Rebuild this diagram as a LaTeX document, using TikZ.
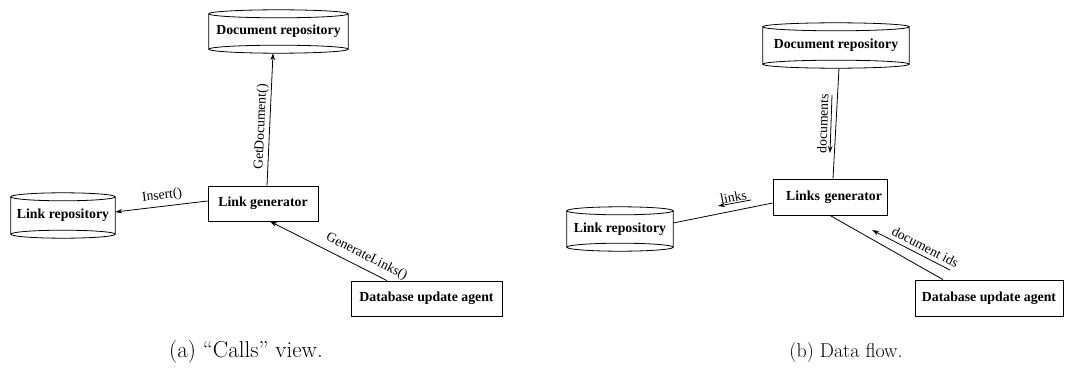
\documentclass[tikz,border=0pt]{standalone}
\usepackage{fontspec}
\newfontfamily\tms{Liberation Serif}
\usetikzlibrary{arrows.meta,calc}
\begin{document}
\begin{tikzpicture}[x=1pt,y=-1pt,
  conn/.style={line width=0.8pt},
  box/.style={draw, line width=0.8pt, inner sep=0pt, font=\tms\bfseries\fontsize{13.8}{16}\selectfont},
  cyl/.style={inner sep=0pt, font=\tms\bfseries\fontsize{13.8}{16}\selectfont},
  arr/.style={conn, -{Stealth[length=7pt,width=4.5pt]}},
  harr/.style={conn, {Stealth[length=7pt,width=4.5pt]}-},
  lbl/.style={font=\tms\fontsize{13.6}{15}\selectfont, inner sep=2pt},
  capa/.style={font=\fontsize{23}{27}\selectfont, inner sep=0pt},
  capb/.style={font=\fontsize{20}{24}\selectfont, inner sep=0pt}
]
\useasboundingbox (0,0) rectangle (1072,369);

% ---------- (a) ----------
\node[cyl, minimum width=139pt, minimum height=43pt] (draA) at (278.5,31.5) {Document repository};
\node[box, minimum width=110pt, minimum height=35pt] (lgA) at (263,203.5) {Link generator};
\node[cyl, minimum width=104pt, minimum height=45pt] (lrA) at (63,215.5) {Link repository};
\node[box, minimum width=151pt, minimum height=35pt] (dbA) at (426.5,298.5) {Database update agent};

% ---------- (b) ----------
\node[cyl, minimum width=146pt, minimum height=45pt] (draB) at (836,45.5) {Document repository};
\node[box, minimum width=114pt, minimum height=36pt, text width=104pt, align=right] (lgB) at (830,197) {Links generator};
\node[cyl, minimum width=106pt, minimum height=44pt] (lrB) at (620,229) {Link repository};
\node[box, minimum width=148pt, minimum height=36pt] (dbB) at (989,298) {Database update agent};

% cylinder outlines
\foreach \cy in {draA,lrA,draB,lrB}{
  \draw[conn] let \p1=(\cy.north west), \p2=(\cy.south east), \n1={(\x2-\x1)/2} in
    (\x1,\y1-4pt) -- (\x1,\y2+4pt)
    (\x2,\y1-4pt) -- (\x2,\y2+4pt)
    ({(\x1+\x2)/2},{\y1-4pt}) ellipse [x radius=\n1, y radius=4pt]
    ({(\x1+\x2)/2},{\y2+4pt}) ellipse [x radius=\n1, y radius=4pt];
}

% connectors (a)
\draw[arr] ($(lgA.north)+(4,0)$) -- node[lbl, sloped, above, pos=0.44, inner sep=2pt] {GetDocument()} ($(draA.south)+(-5.5,0)$);
\draw[harr] ($(lrA.east)+(0,-3.5)$) -- node[lbl, sloped, above, pos=0.52, inner sep=4pt] {Insert()} ($(lgA.west)+(0,-2.5)$);
\draw[harr] ($(lgA.south)+(7,0)$) -- node[lbl, sloped, above, pos=0.78, inner sep=5.5pt] {GenerateLinks()} ($(dbA.north)+(-39.5,0)$);

% connectors (b)
\draw[conn] ($(draB.south)+(3,0)$) -- ($(lgB.north)+(3,0)$);
\draw[conn] ($(lgB.west)+(0,6)$) -- ($(lrB.east)+(0,-6)$);
\draw[conn] (lgB.south) -- ($(dbB.north)+(-46,0)$);

% data-flow arrows (b)
\coordinate (dH) at (830,153);
\coordinate (dT) at (832,95);
\draw[harr] (dH) -- node[lbl, sloped, above, inner sep=3pt] {documents} (dT);
\coordinate (kH) at (718,206);
\coordinate (kT) at (751,200);
\draw[harr] (kH) -- node[lbl, sloped, above, inner sep=1pt] {links} (kT);
\coordinate (iH) at (872,230);
\coordinate (iT) at (950,270);
\draw[harr] (iH) -- node[lbl, sloped, above, pos=0.63, inner sep=4pt] {document ids} (iT);

% captions
\node[capa] (capA) at (246,352) {(a) ``Calls'' view.};
\node[capb] (capB) at (846,353) {(b) Data flow.};
\end{tikzpicture}
\end{document}
